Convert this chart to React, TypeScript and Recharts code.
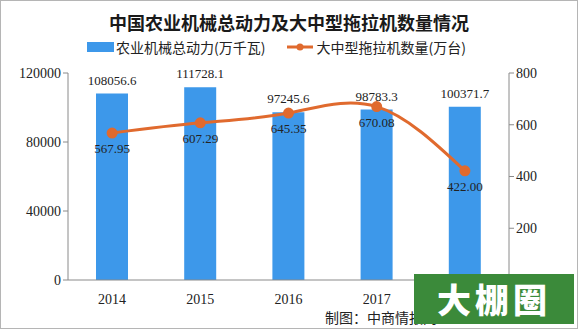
import React from 'react';
import { ComposedChart, Bar, Line, XAxis, YAxis, LabelList } from 'recharts';

const years = ['2014', '2015', '2016', '2017', '2018'];
const machineryPower = [108056.6, 111728.1, 97245.6, 98783.3, 100371.7];
const tractorCount = [567.95, 607.29, 645.35, 670.08, 422.0];
const leftTicks = [0, 40000, 80000, 120000];
const rightTicks = [200, 400, 600, 800];

const data = years.map((year, i) => ({
  year,
  power: machineryPower[i],
  tractors: tractorCount[i],
}));

const serif = '"Liberation Serif", "Noto Sans CJK SC", serif';
const cjk = '"Noto Sans CJK SC", sans-serif';

const App: React.FC = () => {
  return (
    <div style={{ position: 'absolute', left: 0, top: 0, width: 578, height: 329, background: '#fff', boxSizing: 'border-box', border: '1px solid #b5b5b5' }}>
      <div style={{ position: 'absolute', top: 8, width: '100%', textAlign: 'center', fontFamily: cjk, fontWeight: 700, fontSize: 18, color: '#1a1a1a' }}>
        中国农业机械总动力及大中型拖拉机数量情况
      </div>
      {/* legend drawn outside the chart so it doesn't eat plot space */}
      <div style={{ position: 'absolute', top: 37, left: 86, display: 'flex', fontFamily: cjk, fontSize: 14, color: '#222', lineHeight: '18px' }}>
        <div style={{ display: 'flex', alignItems: 'center', marginRight: 22 }}>
          <span style={{ display: 'inline-block', width: 27, height: 10, background: '#3d98ea', marginRight: 2 }} />
          <span>农业机械总动力(万千瓦)</span>
        </div>
        <div style={{ display: 'flex', alignItems: 'center' }}>
          <svg width={26} height={10} style={{ marginRight: 3 }}>
            <line x1={0} y1={5} x2={26} y2={5} stroke="#e06a2e" strokeWidth={3} />
            <circle cx={13} cy={5} r={3.5} fill="#e06a2e" />
          </svg>
          <span>大中型拖拉机数量(万台)</span>
        </div>
      </div>
      <ComposedChart
        width={576}
        height={327}
        data={data}
        margin={{ top: 72, right: 0, left: 0, bottom: 20 }}
        barCategoryGap={28}
        style={{ position: 'absolute', left: 0, top: 0 }}
      >
        <XAxis
          dataKey="year"
          stroke="#8a8a8a"
          height={28}
          tickLine={false}
          tick={{ fontSize: 14, fill: '#222', fontFamily: serif }}
          tickMargin={8}
        />
        <YAxis
          yAxisId="left"
          domain={[0, 120000]}
          ticks={leftTicks}
          width={67}
          stroke="#8a8a8a"
          tickSize={5}
          tick={{ fontSize: 14, fill: '#222', fontFamily: serif }}
        />
        <YAxis
          yAxisId="right"
          orientation="right"
          domain={[0, 800]}
          ticks={rightTicks}
          width={68}
          stroke="#8a8a8a"
          tickSize={5}
          tick={{ fontSize: 14, fill: '#222', fontFamily: serif }}
        />
        <Bar yAxisId="left" dataKey="power" fill="#3d98ea" isAnimationActive={false}>
          <LabelList dataKey="power" position="top" offset={9} style={{ fontSize: 13, fill: '#222', fontFamily: serif }} formatter={(v: number) => v.toFixed(1)} />
        </Bar>
        <Line
          yAxisId="right"
          type="natural"
          dataKey="tractors"
          stroke="#e06a2e"
          strokeWidth={3}
          dot={{ r: 4, fill: '#e06a2e', stroke: '#e06a2e' }}
          isAnimationActive={false}
        >
          <LabelList dataKey="tractors" position="bottom" offset={11} style={{ fontSize: 13, fill: '#222', fontFamily: serif }} formatter={(v: number) => v.toFixed(2)} />
        </Line>
      </ComposedChart>
      <div style={{ position: 'absolute', left: 324, top: 306, fontFamily: cjk, fontSize: 14, color: '#222' }}>
        制图：中商情报网
      </div>
      <div style={{ position: 'absolute', left: 413, top: 273, width: 160, height: 50, background: '#3b8a3a', color: '#fff', fontFamily: cjk, fontWeight: 900, fontSize: 34, lineHeight: '50px', textAlign: 'center', letterSpacing: 4 }}>
        大棚圈
      </div>
    </div>
  );
};

export default App;
